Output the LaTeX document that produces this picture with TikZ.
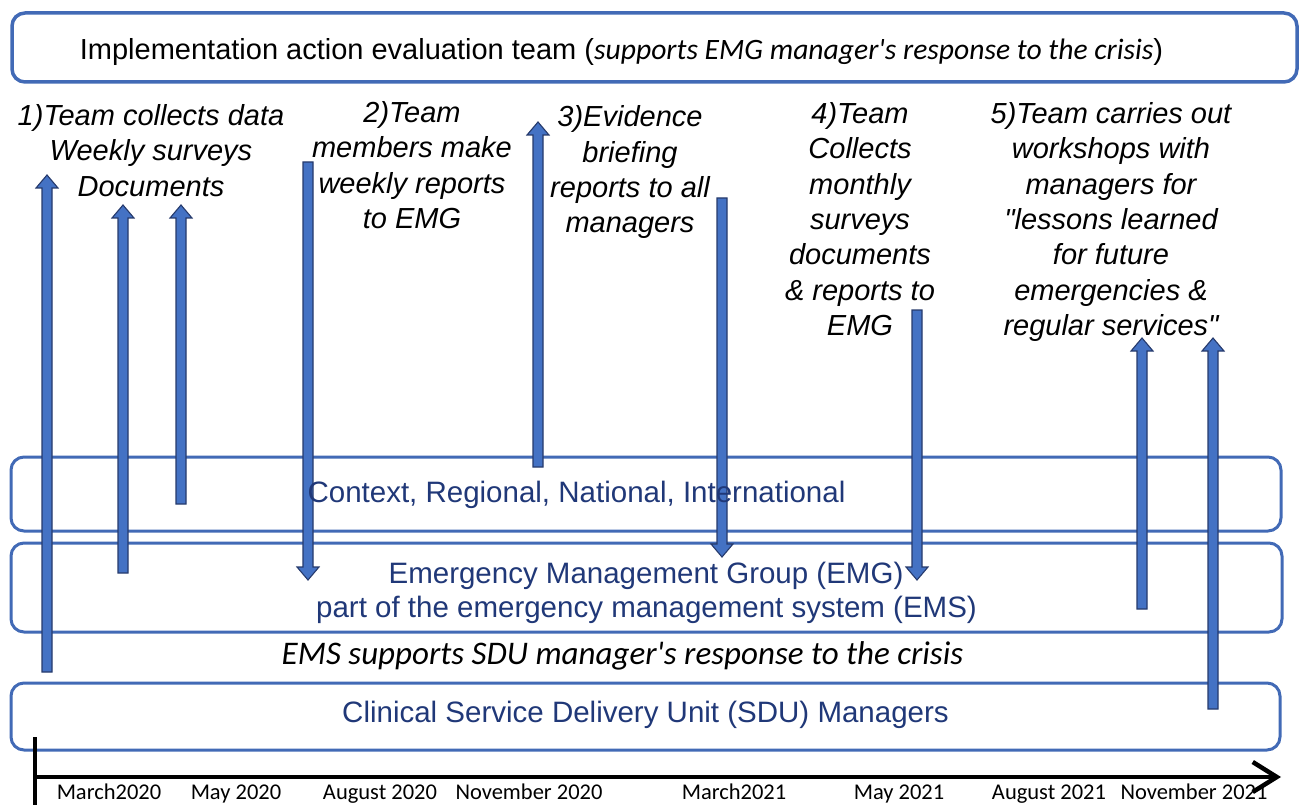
\documentclass[tikz,border=0pt]{standalone}
\usepackage{fontspec}
\setmainfont{Liberation Sans}[Ligatures=TeXOff]
\newfontfamily\calibri{Carlito}[Ligatures=TeXOff]
\usetikzlibrary{arrows.meta}

\definecolor{boxline}{RGB}{66,106,182}
\definecolor{arrowfill}{RGB}{68,114,196}
\definecolor{arrowline}{RGB}{38,58,108}
\definecolor{boxtext}{RGB}{32,56,120}

\tikzset{
  layerbox/.style={draw=boxline, line width=3pt, rounded corners=13pt, fill=white,
    inner sep=0pt, outer sep=0pt},
  layertext/.style={text=boxtext, font=\fontsize{29.5}{35}\selectfont, inner sep=0pt},
  steptext/.style={align=center, font=\fontsize{29}{35.4}\selectfont\itshape,
    inner sep=0pt, anchor=north},
  blockarrow/.style={fill=arrowfill, draw=arrowline, line width=1.1pt, line join=miter},
  datelabel/.style={font=\calibri\fontsize{22.5}{26}\selectfont, inner sep=0pt, anchor=base},
}

% block arrow: #1 x position, #2 tail y, #3 tip y
\newcommand\blkarrow[3]{%
  \pgfmathsetmacro\bsgn{(#3>#2)?1:-1}%
  \pgfmathsetmacro\bneck{#3-\bsgn*13}%
  \draw[blockarrow] (#1-5,#2) -- (#1-5,\bneck) -- (#1-11,\bneck) -- (#1,#3)
    -- (#1+11,\bneck) -- (#1+5,\bneck) -- (#1+5,#2) -- cycle;
}

\begin{document}
\begin{tikzpicture}[x=1pt, y=-1pt]
\useasboundingbox (0,0) rectangle (1301,805);

% layers
\node[layerbox, line width=3.5pt, minimum width=1285pt, minimum height=69pt] (team) at (654.5,47.5) {};
\node[layerbox, minimum width=1270pt, minimum height=74pt] (context) at (646,494) {};
\node[layerbox, minimum width=1271pt, minimum height=89pt] (emg) at (646.5,587.5) {};
\node[layerbox, minimum width=1269pt, minimum height=67pt] (sdu) at (645.5,716.5) {};

% time axis
\coordinate (axstart) at (35,777);
\coordinate (axend) at (1281,777);
\coordinate (axtop) at (35,737);
\coordinate (axbot) at (35,806);
\draw[line width=4.5pt] (axtop) -- (axbot);
\draw[line width=4.5pt, -{Straight Barb[length=24pt, width=30pt]}] (axstart) -- (axend);

% vertical block arrows
\blkarrow{47}{672}{175}
\blkarrow{123}{573}{205}
\blkarrow{181}{504}{205}
\blkarrow{308}{162}{580}
\blkarrow{538}{467}{122}
\blkarrow{722}{198}{557}
\blkarrow{917}{310}{580}
\blkarrow{1142}{609}{338}
\blkarrow{1213}{709}{338}

% layer texts
\node[inner sep=0pt, anchor=base, font=\fontsize{29}{34}\selectfont] (teamtext) at (621.5,60)
  {Implementation action evaluation team ({\calibri\itshape\fontsize{29.6}{34}\selectfont supports EMG manager's response to the crisis})};
\node[layertext, anchor=base] (contexttext) at (576.5,502) {Context, Regional, National, International};
\node[layertext, anchor=base] (emgtext1) at (646,583) {Emergency Management Group (EMG)};
\node[layertext, anchor=base] (emgtext2) at (646.5,617) {part of the emergency management system (EMS)};
\node[inner sep=0pt, anchor=base, font=\calibri\itshape\fontsize{33}{38}\selectfont] (emstext) at (622.5,664)
  {EMS supports SDU manager's response to the crisis};
\node[layertext, anchor=base] (sdutext) at (645.5,722) {Clinical Service Delivery Unit (SDU) Managers};

% step descriptions
\node[steptext] (step1) at (151,104) {1)Team collects data\\Weekly surveys\\Documents};
\node[steptext] (step2) at (412,101) {2)Team\\members make\\weekly reports\\to EMG};
\node[steptext] (step3) at (630,105.5) {3)Evidence\\briefing\\reports to all\\managers};
\node[steptext] (step4) at (860,102) {4)Team\\Collects\\monthly\\surveys\\documents\\\& reports to\\EMG};
\node[steptext] (step5) at (1111,102) {5)Team carries out\\workshops with\\managers for\\"lessons learned\\for future\\emergencies \&\\regular services"};

% dates along the axis
\node[datelabel] (d1) at (109,799) {March2020};
\node[datelabel] (d2) at (236,799) {May 2020};
\node[datelabel] (d3) at (380,799) {August 2020};
\node[datelabel] (d4) at (529,799) {November 2020};
\node[datelabel] (d5) at (734,799) {March2021};
\node[datelabel] (d6) at (899,799) {May 2021};
\node[datelabel] (d7) at (1049,799) {August 2021};
\node[datelabel] (d8) at (1194,799) {November 2021};
\end{tikzpicture}
\end{document}
